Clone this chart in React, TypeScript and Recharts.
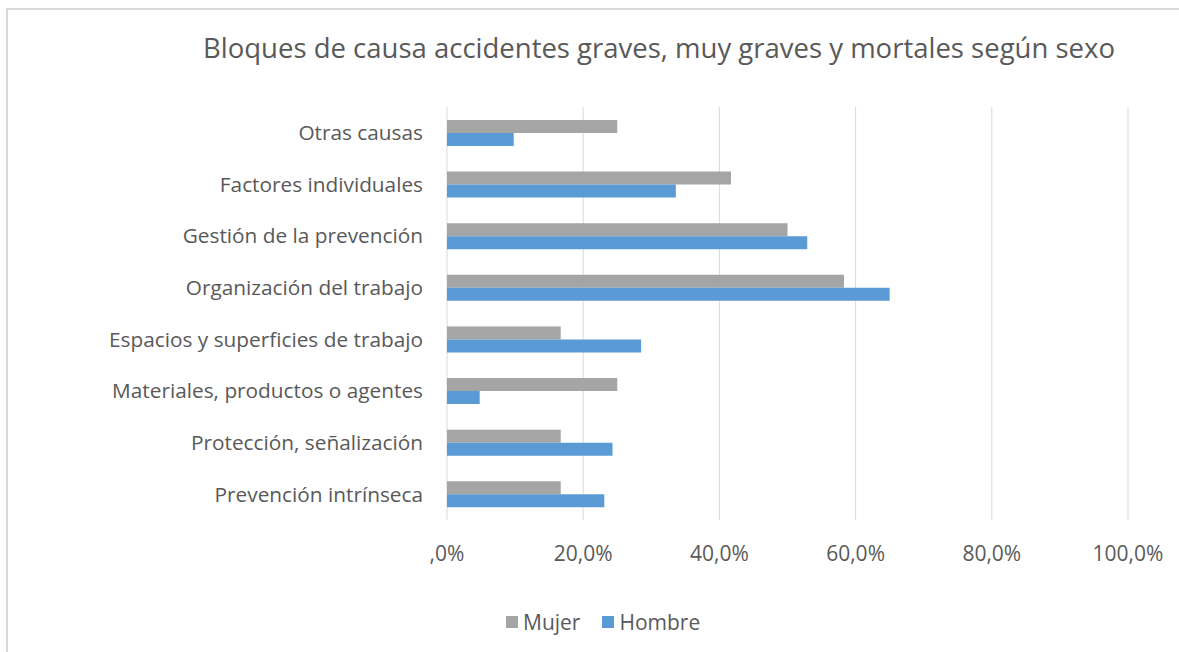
import { BarChart, Bar, XAxis, YAxis, CartesianGrid } from 'recharts';

const categories = [
  'Otras causas',
  'Factores individuales',
  'Gestión de la prevención',
  'Organización del trabajo',
  'Espacios y superficies de trabajo',
  'Materiales, productos o agentes',
  'Protección, señalización',
  'Prevención intrínseca',
];

const mujer = [25.0, 41.7, 50.0, 58.3, 16.7, 25.0, 16.7, 16.7];
const hombre = [9.8, 33.6, 52.9, 65.0, 28.5, 4.8, 24.3, 23.1];

const xTicks = [0, 20, 40, 60, 80, 100];

const series = [
  { key: 'Mujer', color: '#a5a5a5' },
  { key: 'Hombre', color: '#5b9bd5' },
];

const data = categories.map((name, i) => ({ name, Mujer: mujer[i], Hombre: hombre[i] }));

const TEXT = '#595959';
const FONT = '"Open Sans", sans-serif';

const fmt = (v: number) => (v === 0 ? ',0%' : `${v.toFixed(1).replace('.', ',')}%`);

export default function App() {
  return (
    <div style={{ position: 'fixed', left: 0, top: 0, width: 1179, height: 652, overflow: 'hidden', background: '#fff', fontFamily: FONT }}>
      <div style={{ position: 'absolute', left: 0, top: 0 }}>
        <BarChart
          width={1179}
          height={652}
          data={data}
          layout="vertical"
          margin={{ top: 107, right: 51, bottom: 102, left: 0 }}
          barCategoryGap="25%"
          barGap={0}
        >
          <CartesianGrid horizontal={false} stroke="#d9d9d9" />
          <XAxis
            type="number"
            domain={[0, 100]}
            ticks={xTicks}
            tickFormatter={fmt}
            height={30}
            axisLine={false}
            tickLine={false}
            tickSize={0}
            tickMargin={26}
            tick={{ fill: TEXT, fontSize: 21, fontFamily: FONT }}
          />
          <YAxis
            type="category"
            dataKey="name"
            width={447}
            axisLine={false}
            tickLine={false}
            tickSize={0}
            tickMargin={24}
            tick={{ fill: TEXT, fontSize: 20.8, fontFamily: FONT }}
          />
          {series.map((s) => (
            <Bar key={s.key} dataKey={s.key} fill={s.color} isAnimationActive={false} />
          ))}
        </BarChart>
      </div>
      <div
        style={{
          position: 'absolute',
          top: 33.5,
          left: 659,
          transform: 'translateX(-50%)',
          whiteSpace: 'nowrap',
          fontSize: 27.5,
          lineHeight: 1,
          color: TEXT,
        }}
      >
        Bloques de causa accidentes graves, muy graves y mortales según sexo
      </div>
      <div
        style={{
          position: 'absolute',
          top: 607,
          left: 506,
          display: 'flex',
          alignItems: 'center',
          fontSize: 21,
          lineHeight: '30px',
          color: TEXT,
          whiteSpace: 'nowrap',
        }}
      >
        {series.map((s, i) => (
          <div key={s.key} style={{ display: 'flex', alignItems: 'center', marginLeft: i === 0 ? 0 : 22 }}>
            <span style={{ display: 'inline-block', width: 12, height: 12, background: s.color, marginRight: 5 }} />
            <span>{s.key}</span>
          </div>
        ))}
      </div>
      <div
        style={{
          position: 'absolute',
          left: 6,
          top: 8,
          width: 1200,
          height: 700,
          borderLeft: '2px solid #d9d9d9',
          borderTop: '2px solid #d9d9d9',
          pointerEvents: 'none',
        }}
      />
    </div>
  );
}
